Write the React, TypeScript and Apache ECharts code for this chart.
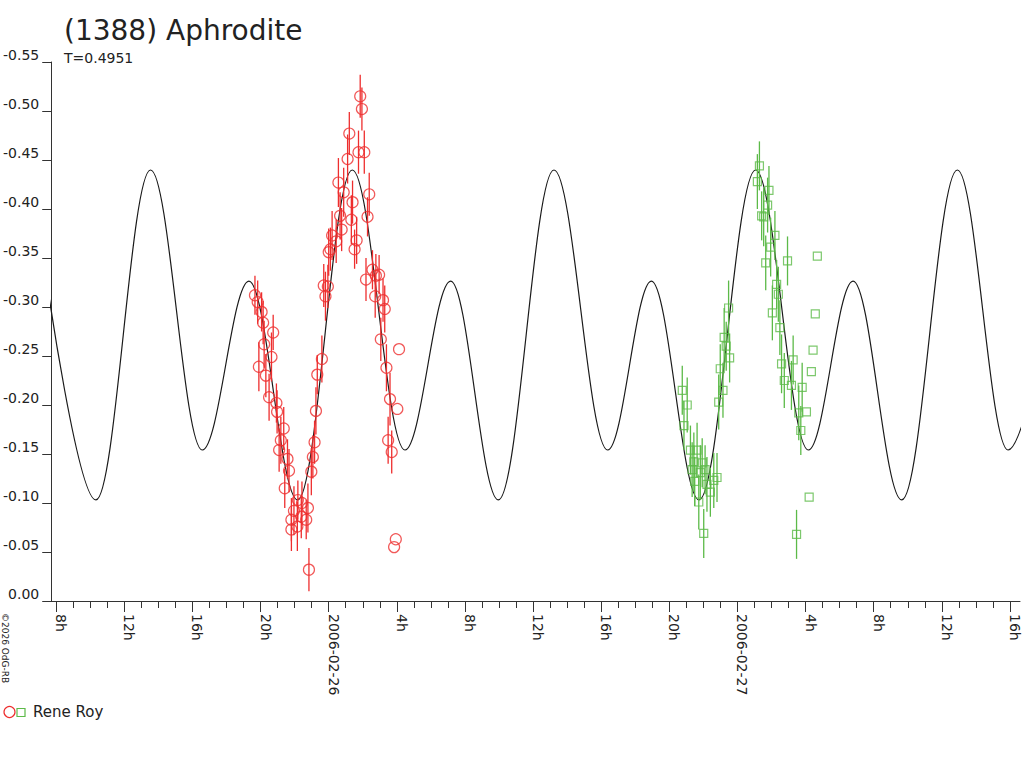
import React, { useEffect, useRef } from "react";
import * as echarts from "echarts";

// ---- text ----
const TITLE = "(1388) Aphrodite";
const SUBTITLE = "T=0.4951";
const OBSERVER = "Rene Roy";
const CREDIT = "©2026 OdG-RB";

// ---- x axis: hours since 2006-02-25 00:00 ----
const X_MIN = 7.708;
const X_MAX = 64.59;
const MAJOR_TICKS = [8, 12, 16, 20, 24, 28, 32, 36, 40, 44, 48, 52, 56, 60, 64];
const MINOR_TICKS = [
  8, 9, 10, 11, 12, 13, 14, 15, 16, 17, 18, 19, 20, 21, 22, 23, 24, 25, 26, 27, 28, 29, 30, 31, 32,
  33, 34, 35, 36, 37, 38, 39, 40, 41, 42, 43, 44, 45, 46, 47, 48, 49, 50, 51, 52, 53, 54, 55, 56,
  57, 58, 59, 60, 61, 62, 63, 64,
];
const DATE_LABELS: Record<number, string> = { 24: "2006-02-26", 48: "2006-02-27" };

// ---- y axis ----
const Y_MIN = -0.55;
const Y_MAX = 0;
const Y_STEP = 0.05;

// ---- fitted light curve (extrema) ----
const curveHours = [
  7.445, 10.333, 13.542, 16.576, 19.318, 22.176, 25.385, 28.477, 31.161, 33.961, 37.228, 40.378,
  42.945, 45.746, 49.071, 52.163, 54.788, 57.647, 60.914, 63.889, 66.631,
];
const curveMags = [
  -0.3265, -0.1031, -0.4398, -0.1541, -0.3265, -0.1031, -0.4398, -0.1541, -0.3265, -0.1031,
  -0.4398, -0.1541, -0.3265, -0.1031, -0.4398, -0.1541, -0.3265, -0.1031, -0.4398, -0.1541,
  -0.3265,
];

// ---- observations [hour, magnitude, error] ----
const redPoints = [
  [19.67, -0.312, 0.02], [19.83, -0.305, 0.022], [20.06, -0.295, 0.02], [20.15, -0.284, 0.022],
  [20.74, -0.274, 0.018], [20.21, -0.262, 0.024], [20.64, -0.249, 0.025], [19.9, -0.239, 0.025],
  [20.31, -0.23, 0.022], [20.5, -0.208, 0.024], [20.93, -0.202, 0.02], [20.97, -0.193, 0.022],
  [21.36, -0.176, 0.022], [21.19, -0.164, 0.024], [21.09, -0.154, 0.022], [21.58, -0.145, 0.02],
  [21.67, -0.133, 0.022], [21.42, -0.115, 0.02], [22.19, -0.103, 0.02], [21.96, -0.092, 0.025],
  [22.43, -0.1, 0.022], [22.78, -0.095, 0.025], [21.81, -0.083, 0.022], [22.68, -0.083, 0.02],
  [21.81, -0.073, 0.022], [22.16, -0.076, 0.025], [22.39, -0.086, 0.022], [22.84, -0.032, 0.022],
  [22.98, -0.132, 0.024], [23.07, -0.147, 0.022], [23.17, -0.162, 0.022], [23.25, -0.194, 0.024],
  [23.33, -0.231, 0.02], [23.6, -0.247, 0.024], [23.71, -0.322, 0.022], [23.81, -0.311, 0.025],
  [23.95, -0.321, 0.022], [24.0, -0.356, 0.024], [24.1, -0.359, 0.022], [24.2, -0.373, 0.025],
  [24.44, -0.367, 0.022], [24.57, -0.427, 0.025], [24.67, -0.393, 0.024], [24.76, -0.379, 0.022],
  [24.88, -0.417, 0.025], [25.11, -0.451, 0.025], [25.21, -0.477, 0.022], [25.33, -0.389, 0.025],
  [25.4, -0.407, 0.022], [25.52, -0.359, 0.02], [25.64, -0.368, 0.024], [25.75, -0.458, 0.022],
  [25.85, -0.515, 0.022], [25.95, -0.502, 0.022], [26.09, -0.458, 0.022], [26.19, -0.328, 0.022],
  [26.28, -0.392, 0.02], [26.38, -0.415, 0.022], [26.57, -0.338, 0.02], [26.73, -0.311, 0.022],
  [26.77, -0.332, 0.022], [26.96, -0.333, 0.02], [27.06, -0.267, 0.022], [27.19, -0.307, 0.022],
  [27.29, -0.298, 0.024], [27.39, -0.238, 0.024], [27.49, -0.164, 0.024], [27.6, -0.206, 0.027],
  [27.7, -0.152, 0.022], [27.84, -0.055, 0], [27.94, -0.063, 0], [28.03, -0.196, 0],
  [28.13, -0.257, 0],
];

const greenPoints = [
  [49.29, -0.444, 0.025], [49.17, -0.428, 0.028], [49.85, -0.419, 0.025], [49.77, -0.404, 0.028],
  [49.42, -0.393, 0.025], [49.54, -0.392, 0.03], [50.2, -0.373, 0.025], [49.95, -0.361, 0.03],
  [49.66, -0.345, 0.028], [50.94, -0.347, 0.025], [52.69, -0.352, 0], [50.3, -0.323, 0.025],
  [50.4, -0.313, 0.028], [50.05, -0.294, 0.028], [52.57, -0.293, 0], [50.49, -0.279, 0.028],
  [52.44, -0.256, 0], [50.59, -0.242, 0.03], [51.27, -0.246, 0.025], [52.34, -0.234, 0],
  [50.75, -0.225, 0.028], [51.17, -0.22, 0.025], [51.8, -0.218, 0.025], [51.6, -0.192, 0.028],
  [52.05, -0.193, 0], [51.72, -0.174, 0.025], [52.21, -0.106, 0], [51.47, -0.068, 0.025],
  [47.48, -0.299, 0.028], [47.22, -0.269, 0.03], [47.34, -0.26, 0.025], [47.54, -0.248, 0.025],
  [46.99, -0.237, 0.025], [47.15, -0.215, 0.028], [46.9, -0.203, 0.028], [44.76, -0.215, 0.025],
  [45.05, -0.2, 0.028], [44.86, -0.179, 0.025], [45.24, -0.154, 0.025], [45.63, -0.154, 0.028],
  [45.44, -0.142, 0.03], [45.93, -0.141, 0.025], [45.82, -0.131, 0.028], [45.49, -0.122, 0.025],
  [46.21, -0.119, 0.028], [46.41, -0.111, 0.025], [46.61, -0.123, 0.028], [46.8, -0.126, 0.025],
  [45.73, -0.101, 0.028], [46.02, -0.069, 0.025], [45.34, -0.134, 0.028], [46.1, -0.134, 0.025],
];

const RED = "#ee2e2e";
const GREEN = "#5cba48";
const INK = "#222222";
const FONT = "DejaVu Sans";

function errorBars(data: number[][], color: string) {
  return {
    type: "custom",
    silent: true,
    z: 3,
    data: data.filter((d) => d[2] > 0),
    encode: { x: 0, y: 1 },
    renderItem: (_params: any, api: any) => {
      const x = api.value(0);
      const y = api.value(1);
      const e = api.value(2);
      const a = api.coord([x, y - e]);
      const b = api.coord([x, y + e]);
      return {
        type: "line",
        shape: { x1: a[0], y1: a[1], x2: b[0], y2: b[1] },
        style: { stroke: color, lineWidth: 1.3 },
      };
    },
  };
}

export default function App() {
  const ref = useRef<HTMLDivElement>(null);

  useEffect(() => {
    if (!ref.current) return;
    const chart = echarts.init(ref.current, undefined, { renderer: "svg" });
    const axisColor = "#333333";
    chart.setOption({
      animation: false,
      backgroundColor: "#ffffff",
      textStyle: { fontFamily: FONT },
      grid: { left: 45, right: 4, top: 62, bottom: 167, containLabel: false },
      xAxis: [
        {
          type: "value",
          min: X_MIN,
          max: X_MAX,
          axisLine: { show: true, lineStyle: { color: axisColor, width: 1 } },
          axisTick: {
            show: true,
            length: 11,
            customValues: MAJOR_TICKS,
            lineStyle: { color: axisColor, width: 1 },
          },
          axisLabel: {
            show: true,
            customValues: MAJOR_TICKS,
            rotate: -90,
            margin: 13,
            verticalAlign: "bottom",
            lineHeight: 10,
            fontFamily: FONT,
            fontSize: 14,
            color: INK,
            formatter: (v: number) => {
              const r = Math.round(v);
              if (DATE_LABELS[r]) return DATE_LABELS[r];
              return (r % 24) + "h";
            },
          },
          splitLine: { show: false },
        },
        {
          type: "value",
          min: X_MIN,
          max: X_MAX,
          position: "bottom",
          axisLine: { show: false },
          axisTick: {
            show: true,
            length: 7,
            customValues: MINOR_TICKS,
            lineStyle: { color: axisColor, width: 1 },
          },
          axisLabel: { show: false },
          splitLine: { show: false },
        },
      ],
      yAxis: {
        type: "value",
        inverse: true,
        min: Y_MIN,
        max: Y_MAX,
        interval: Y_STEP,
        axisLine: { show: true, lineStyle: { color: axisColor, width: 1 } },
        axisTick: { show: true, length: 9, lineStyle: { color: axisColor, width: 1 } },
        axisLabel: {
          margin: 12,
          verticalAlign: "bottom",
          fontFamily: FONT,
          fontSize: 14,
          color: INK,
          formatter: (v: number) => (Math.abs(v) < 1e-9 ? "0.00" : v.toFixed(2)),
        },
        splitLine: { show: false },
      },
      series: [
        {
          type: "line",
          data: curveHours.map((h, i) => [h, curveMags[i]]),
          showSymbol: false,
          smooth: 0.36,
          smoothMonotone: "x",
          lineStyle: { color: "#1a1a1a", width: 1.2 },
          silent: true,
          z: 2,
        },
        errorBars(redPoints, RED),
        errorBars(greenPoints, GREEN),
        {
          type: "scatter",
          data: redPoints.map((d) => [d[0], d[1]]),
          symbol: "circle",
          symbolSize: 11,
          itemStyle: { color: "rgba(0,0,0,0)", borderColor: RED, borderWidth: 1.2 },
          z: 4,
        },
        {
          type: "scatter",
          data: greenPoints.map((d) => [d[0], d[1]]),
          symbol: "rect",
          symbolSize: 8,
          itemStyle: { color: "rgba(0,0,0,0)", borderColor: GREEN, borderWidth: 1.2 },
          z: 4,
        },
      ],
      graphic: [
        {
          type: "text",
          left: 64,
          top: 16,
          style: { text: TITLE, fontFamily: FONT, fontSize: 28, fill: INK },
        },
        {
          type: "text",
          left: 64,
          top: 51,
          style: { text: SUBTITLE, fontFamily: FONT, fontSize: 14, fill: INK },
        },
        {
          type: "circle",
          shape: { cx: 9.5, cy: 712, r: 5.5 },
          style: { fill: "none", stroke: RED, lineWidth: 1.2 },
        },
        {
          type: "rect",
          shape: { x: 17, y: 708.5, width: 8, height: 8 },
          style: { fill: "none", stroke: GREEN, lineWidth: 1.2 },
        },
        {
          type: "text",
          x: 33,
          y: 704,
          style: { text: OBSERVER, fontFamily: FONT, fontSize: 15, fill: INK },
        },
        {
          type: "text",
          x: 9,
          y: 613,
          rotation: -Math.PI / 2,
          style: { text: CREDIT, fontFamily: FONT, fontSize: 9, fill: INK },
        },
      ],
    });
    return () => chart.dispose();
  }, []);

  return (
    <div
      ref={ref}
      style={{ position: "absolute", left: 0, top: 0, width: 1024, height: 768, background: "#fff" }}
    />
  );
}
